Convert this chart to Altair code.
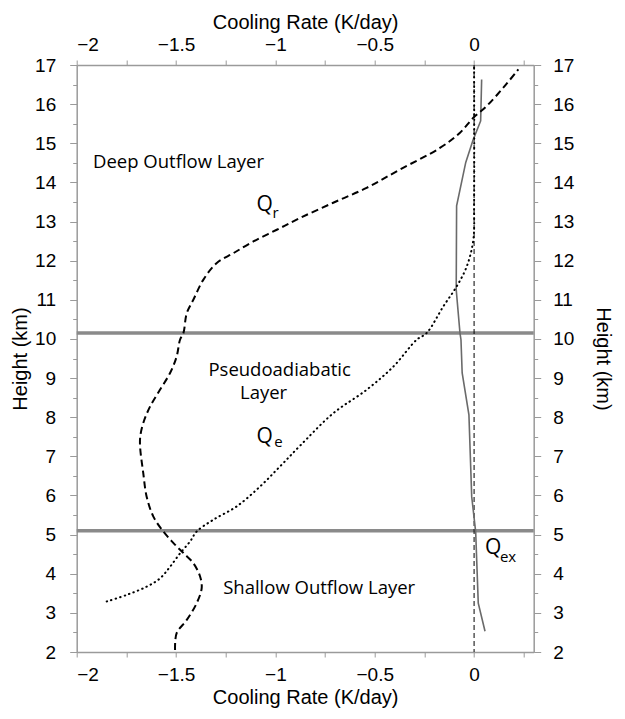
import altair as alt
import pandas as pd

# Q_r (dashed)
qr_x = [-1.505, -1.497, -1.446, -1.396, -1.371, -1.379, -1.413, -1.463, -1.514, -1.564,
        -1.614, -1.648, -1.665, -1.681, -1.680, -1.665, -1.631, -1.581, -1.530, -1.497,
        -1.480, -1.463, -1.446, -1.413, -1.363, -1.295, -1.212, -1.111, -0.993, -0.876,
        -0.709, -0.541, -0.373, -0.172, -0.071, -0.004, 0.063, 0.147, 0.223]
qr_y = [2.05, 2.48, 2.82, 3.25, 3.63, 3.93, 4.27, 4.53, 4.79, 5.08,
        5.46, 5.97, 6.57, 7.25, 7.51, 7.85, 8.27, 8.70, 9.13, 9.55,
        9.98, 10.15, 10.66, 11.00, 11.51, 11.94, 12.19, 12.49, 12.79, 13.09,
        13.48, 13.86, 14.33, 14.88, 15.27, 15.65, 15.95, 16.42, 16.89]

# Q_e (dotted)
qe_x = [-1.849, -1.748, -1.648, -1.581, -1.530, -1.480, -1.430, -1.396, -1.312, -1.195,
        -1.077, -0.977, -0.876, -0.709, -0.541, -0.407, -0.289, -0.239, -0.155, -0.088,
        -0.037, -0.004, 0.0, 0.0]
qe_y = [3.29, 3.46, 3.67, 3.88, 4.18, 4.52, 4.82, 5.08, 5.38, 5.72,
        6.23, 6.74, 7.27, 8.10, 8.70, 9.29, 9.98, 10.15, 10.83, 11.34,
        11.85, 12.53, 13.5, 17.0]

# Q_ex (solid grey)
qex_x = [0.055, 0.021, 0.008, -0.012, -0.026, -0.060, -0.066, -0.071, -0.090, -0.088,
         -0.042, -0.004, 0.033, 0.038]
qex_y = [2.53, 3.25, 5.07, 5.97, 8.06, 9.13, 9.98, 10.15, 11.26, 13.40,
         14.51, 15.10, 15.57, 16.63]

layer_bounds = [10.15, 5.1]
zero_line = [0.0]

x_ticks = [-2.0, -1.75, -1.5, -1.25, -1.0, -0.75, -0.5, -0.25, 0.0, 0.25]
y_ticks = [v / 2 for v in range(4, 35)]

big_labels = ["Deep Outflow Layer", "Pseudoadiabatic", "Layer", "Shallow Outflow Layer"]
big_x = [-1.918, -1.337, -1.178, -1.263]
big_y = [14.51, 9.21, 8.62, 3.64]

q_labels = ["Q", "Q", "Q"]
q_x = [-1.095, -1.095, 0.055]
q_y = [13.43, 7.50, 4.66]

sub_labels = ["r", "e", "ex"]
sub_x = [-1.014, -1.006, 0.130]
sub_y = [13.10, 7.24, 4.30]


def seq(xs, ys):
    return pd.DataFrame({"x": xs, "y": ys, "i": list(range(len(xs)))})


xs = alt.Scale(domain=[-2, 0.3], nice=False, zero=False)
ys = alt.Scale(domain=[2, 17], nice=False, zero=False)

FONT = "Liberation Sans"
common = dict(
    domainColor="#9a9a9a", domainWidth=1.5, tickColor="#9a9a9a", tickWidth=1,
    labelColor="black", labelFont=FONT, labelFontSize=19,
    titleColor="black", titleFont=FONT, titleFontSize=20, titleFontWeight="normal",
    grid=False,
)
x_label_expr = "(datum.value * 2) % 1 == 0 ? format(datum.value, '~g') : ''"
y_label_expr = "datum.value % 1 == 0 ? format(datum.value, 'd') : ''"
y_tick_size = {"condition": {"test": "datum.value % 1 == 0", "value": 7}, "value": 4}

x_bottom = alt.Axis(orient="bottom", values=x_ticks, labelExpr=x_label_expr, tickSize=5,
                    labelPadding=8, titlePadding=3, title="Cooling Rate (K/day)", **common)
x_top = alt.Axis(orient="top", values=x_ticks, labelExpr=x_label_expr, tickSize=5,
                 labelPadding=6, titlePadding=3, title="Cooling Rate (K/day)", **common)
y_left = alt.Axis(orient="left", values=y_ticks, labelExpr=y_label_expr, tickSize=y_tick_size,
                  labelPadding=14, titlePadding=4, title="Height (km)", **common)
y_right = alt.Axis(orient="right", values=y_ticks, labelExpr=y_label_expr, tickSize=y_tick_size,
                   labelPadding=12, titlePadding=19, title="Height (km)", **common)

qr = alt.Chart(seq(qr_x, qr_y)).mark_line(
    color="black", strokeWidth=2, strokeDash=[7, 4], interpolate="catmull-rom"
).encode(
    x=alt.X("x:Q", scale=xs, axis=x_bottom),
    y=alt.Y("y:Q", scale=ys, axis=y_left),
    order="i:O",
)

qe = alt.Chart(seq(qe_x, qe_y)).mark_line(
    color="black", strokeWidth=2, strokeDash=[0.5, 4.2], strokeCap="round",
    interpolate="catmull-rom"
).encode(
    x=alt.X("x:Q", scale=xs, axis=x_top),
    y=alt.Y("y:Q", scale=ys, axis=y_right),
    order="i:O",
)

qex = alt.Chart(seq(qex_x, qex_y)).mark_line(
    color="#6a6a6a", strokeWidth=1.6
).encode(
    x=alt.X("x:Q", scale=xs, axis=None),
    y=alt.Y("y:Q", scale=ys, axis=None),
    order="i:O",
)

zero = alt.Chart(pd.DataFrame({"x": zero_line})).mark_rule(
    color="black", strokeWidth=1, strokeDash=[5, 3]
).encode(x=alt.X("x:Q", scale=xs, axis=None))

bounds = alt.Chart(pd.DataFrame({"y": layer_bounds})).mark_rule(
    color="#8a8a8a", strokeWidth=3.5
).encode(y=alt.Y("y:Q", scale=ys, axis=None))

TFONT = "Open Sans"
big = alt.Chart(pd.DataFrame({"t": big_labels, "x": big_x, "y": big_y})).mark_text(
    font=TFONT, fontSize=18.5, align="left", baseline="middle", color="black"
).encode(x=alt.X("x:Q", scale=xs, axis=None), y=alt.Y("y:Q", scale=ys, axis=None), text="t:N")

qtxt = alt.Chart(pd.DataFrame({"t": q_labels, "x": q_x, "y": q_y})).mark_text(
    font=TFONT, fontSize=21, align="left", baseline="middle", color="black"
).encode(x=alt.X("x:Q", scale=xs, axis=None), y=alt.Y("y:Q", scale=ys, axis=None), text="t:N")

stxt = alt.Chart(pd.DataFrame({"t": sub_labels, "x": sub_x, "y": sub_y})).mark_text(
    font=TFONT, fontSize=15, align="left", baseline="alphabetic", color="black"
).encode(x=alt.X("x:Q", scale=xs, axis=None), y=alt.Y("y:Q", scale=ys, axis=None), text="t:N")

chart = alt.layer(bounds, zero, qex, qe, qr, big, qtxt, stxt).resolve_axis(
    x="independent", y="independent"
).properties(
    width=457, height=587,
    autosize=alt.AutoSizeParams(type="none"),
    padding={"left": 68.7, "top": 57, "right": 83.3, "bottom": 59},
    background="white",
).configure_view(stroke=None)

chart.save("out.html", embed_options={"renderer": "svg", "actions": False})
